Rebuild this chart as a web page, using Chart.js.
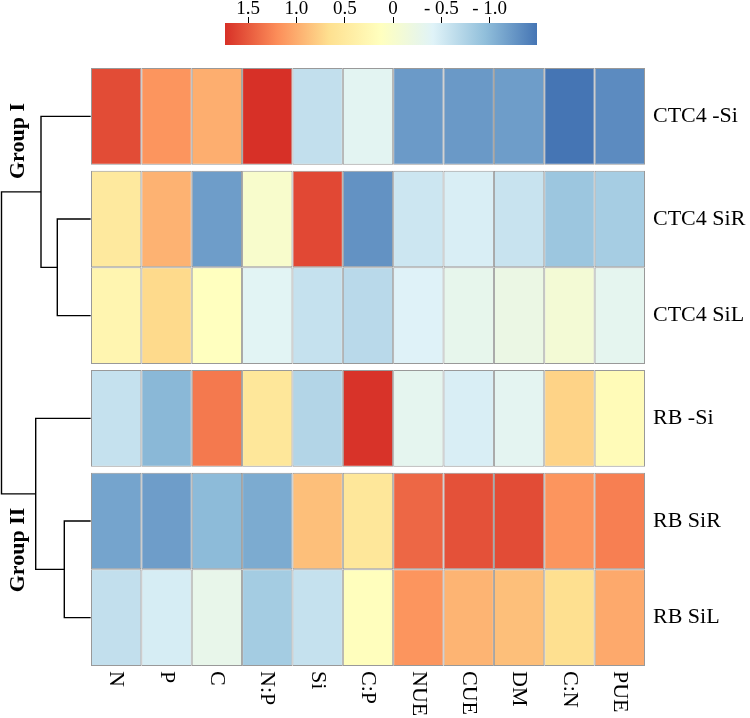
<!DOCTYPE html>
<html><head><meta charset="utf-8">
<script src="https://cdn.jsdelivr.net/npm/chart.js@4.4.1/dist/chart.umd.min.js"></script>
<style>
html,body{margin:0;padding:0;background:#fff;}
#wrap{position:relative;width:750px;height:718px;overflow:hidden;}
#wrap canvas{position:absolute;left:0;top:0;}
</style></head><body>
<div id="wrap">
<canvas id="heat" width="750" height="718"></canvas>
<canvas id="dendro" width="750" height="718"></canvas>
<canvas id="cbar" width="750" height="60"></canvas>
</div>
<script>
// ---------------- data ----------------
const variables = ['N','P','C','N:P','Si','C:P','NUE','CUE','DM','C:N','PUE'];
const samples = ['CTC4 -Si','CTC4 SiR','CTC4 SiL','RB -Si','RB SiR','RB SiL'];
const ctc4NoSi = [1.58, 1.15, 0.99, 1.74, -0.62, -0.36, -1.22, -1.23, -1.20, -1.49, -1.33];
const ctc4SiR  = [0.50, 0.96, -1.20, 0.00, 1.60, -1.28, -0.55, -0.46, -0.58, -0.88, -0.81];
const ctc4SiL  = [0.30, 0.70, 0.13, -0.38, -0.60, -0.68, -0.42, -0.30, -0.22, -0.08, -0.33];
const rbNoSi   = [-0.60, -1.00, 1.32, 0.55, -0.72, 1.72, -0.33, -0.46, -0.35, 0.75, 0.20];
const rbSiR    = [-1.15, -1.20, -0.98, -1.10, 0.88, 0.55, 1.42, 1.55, 1.58, 1.15, 1.28];
const rbSiL    = [-0.62, -0.48, -0.28, -0.82, -0.60, 0.15, 1.15, 0.95, 0.88, 0.66, 1.02];
const rowCluster = [0, 1, 1, 2, 3, 3];            // cut of the row tree
// hclust-style merges (negative = leaf index, positive = earlier merge)
const mergeA = [-5, -2, -1, -4, 3];
const mergeB = [-6, -3, 2, 1, 4];
const mergeHeight = [2.64, 3.34, 4.97, 5.50, 8.92];
const legendTicks = [1.5, 1.0, 0.5, 0, -0.5, -1.0];
const legendTickLabels = ['1.5', '1.0', '0.5', '0', '- 0.5', '- 1.0'];
const groupNames = ['Group I', 'Group II'];

// ---------------- styles ----------------
const matrix = [ctc4NoSi, ctc4SiR, ctc4SiL, rbNoSi, rbSiR, rbSiL];
const SERIF = '"Liberation Serif", "DejaVu Serif", "Times New Roman", serif';
const PAL = ['#4575B4','#91BFDB','#E0F3F8','#FFFFBF','#FEE090','#FC8D59','#D73027'];
const GAP = 0.062;
const GROUP_LABEL_POS = [{x: 18, y: 141}, {x: 18, y: 550}];

const allVals = matrix.flat();
const vMin = Math.min(...allVals), vMax = Math.max(...allVals);
function hex2rgb(h){ return [1,3,5].map(k=>parseInt(h.slice(k,k+2),16)); }
const PALRGB = PAL.map(hex2rgb);
function colorAt(t){
  t = Math.max(0, Math.min(1, t));
  const p = t*(PAL.length-1);
  const i = Math.min(Math.floor(p), PAL.length-2);
  const f = p - i;
  const a = PALRGB[i], b = PALRGB[i+1];
  const c = a.map((v,k)=>Math.round(v + (b[k]-v)*f));
  return `rgb(${c[0]},${c[1]},${c[2]})`;
}
function colorFor(v){ return colorAt((v - vMin)/(vMax - vMin)); }
function rowStart(i){ return i + GAP*rowCluster[i]; }
const totalRows = rowStart(samples.length-1) + 1;

Chart.defaults.font.family = SERIF;

// ---------------- heatmap ----------------
const xLabelPlugin = {
  id: 'xlabels',
  afterDraw(chart){
    const {ctx, chartArea} = chart; const x = chart.scales.x;
    ctx.save();
    ctx.font = `22px ${SERIF}`; ctx.fillStyle = '#000';
    ctx.textAlign = 'left'; ctx.textBaseline = 'middle';
    variables.forEach((lab, i) => {
      ctx.save();
      ctx.translate(x.getPixelForValue(i), chartArea.bottom + 5);
      ctx.rotate(Math.PI/2);
      ctx.fillText(lab, 0, 0);
      ctx.restore();
    });
    ctx.restore();
  }
};

new Chart(document.getElementById('heat'), {
  type: 'bar',
  data: {
    labels: variables,
    datasets: matrix.map((row, i) => ({
      label: samples[i],
      data: row.map(() => [rowStart(i), rowStart(i) + 1]),
      backgroundColor: row.map(colorFor),
      borderColor: '#999999', borderWidth: 1, borderSkipped: false,
      barPercentage: 1, categoryPercentage: 1, grouped: false, inflateAmount: 0
    }))
  },
  options: {
    responsive: false, animation: false, events: [],
    layout: {padding: {left: 91, top: 68, bottom: 52, right: 0}},
    plugins: {legend: {display: false}, tooltip: {enabled: false}},
    scales: {
      x: {display: false, offset: true},
      y: {
        type: 'linear', position: 'right', reverse: true, min: 0, max: totalRows,
        afterBuildTicks: s => { s.ticks = samples.map((_, i) => ({value: rowStart(i) + 0.5})); },
        afterFit: s => { s.width = 105; },
        grid: {display: false, drawTicks: false}, border: {display: false},
        ticks: {callback: (v, i) => samples[i], font: {family: SERIF, size: 22}, color: '#000', padding: 8, autoSkip: false}
      }
    }
  },
  plugins: [xLabelPlugin]
});

// ---------------- dendrogram ----------------
const nodePos = [];
function childPos(c){ return c < 0 ? {y: rowStart(-c-1) + 0.5, h: 0} : nodePos[c-1]; }
const dendroSets = mergeHeight.map((h, k) => {
  const a = childPos(mergeA[k]), b = childPos(mergeB[k]);
  nodePos[k] = {y: (a.y + b.y)/2, h};
  return {
    data: [{x: a.h, y: a.y}, {x: h, y: a.y}, {x: h, y: b.y}, {x: b.h, y: b.y}],
    showLine: true, pointRadius: 0, borderColor: '#000', borderWidth: 1.4,
    tension: 0, clip: false, fill: false
  };
});
const groupLabelPlugin = {
  id: 'grouplabels',
  afterDraw(chart){
    const ctx = chart.ctx;
    ctx.save();
    ctx.font = `bold 22px ${SERIF}`; ctx.fillStyle = '#000';
    ctx.textAlign = 'center'; ctx.textBaseline = 'middle';
    groupNames.forEach((g, i) => {
      ctx.save();
      ctx.translate(GROUP_LABEL_POS[i].x, GROUP_LABEL_POS[i].y);
      ctx.rotate(-Math.PI/2);
      ctx.fillText(g, 0, 0);
      ctx.restore();
    });
    ctx.restore();
  }
};
new Chart(document.getElementById('dendro'), {
  type: 'scatter',
  data: {datasets: dendroSets},
  options: {
    responsive: false, animation: false, events: [],
    layout: {padding: {left: 1.5, right: 659.3, top: 68, bottom: 52}},
    plugins: {legend: {display: false}, tooltip: {enabled: false}},
    scales: {
      x: {type: 'linear', reverse: true, min: 0, max: Math.max(...mergeHeight), display: false},
      y: {type: 'linear', reverse: true, min: 0, max: totalRows, display: false}
    }
  },
  plugins: [groupLabelPlugin]
});

// ---------------- colour key ----------------
function keyGradient(chart){
  const {ctx, chartArea} = chart;
  if (!chartArea) return PAL[3];
  const x = chart.scales.x;
  const g = ctx.createLinearGradient(x.getPixelForValue(vMin), 0, x.getPixelForValue(vMax), 0);
  PAL.forEach((c, i) => g.addColorStop(i/(PAL.length-1), c));
  return g;
}
new Chart(document.getElementById('cbar'), {
  type: 'bar',
  data: {labels: [''], datasets: [{data: [[vMin, vMax]], backgroundColor: c => keyGradient(c.chart),
    borderWidth: 0, barPercentage: 1, categoryPercentage: 1, inflateAmount: 0}]},
  options: {
    indexAxis: 'y', responsive: false, animation: false, events: [],
    layout: {padding: {left: 225, right: 213, top: 0, bottom: 15}},
    plugins: {legend: {display: false}, tooltip: {enabled: false}},
    scales: {
      x: {
        type: 'linear', position: 'top', reverse: true, min: vMin, max: vMax,
        afterBuildTicks: s => { s.ticks = legendTicks.map(v => ({value: v})); },
        afterFit: s => { s.height = 23; },
        ticks: {callback: (v, i) => legendTickLabels[i], font: {family: SERIF, size: 19}, color: '#000', padding: -3, autoSkip: false, maxRotation: 0},
        grid: {drawOnChartArea: false, drawTicks: true, tickLength: 6, color: '#000', lineWidth: 1},
        border: {display: false}
      },
      y: {display: false}
    }
  }
});
</script>
</body></html>
